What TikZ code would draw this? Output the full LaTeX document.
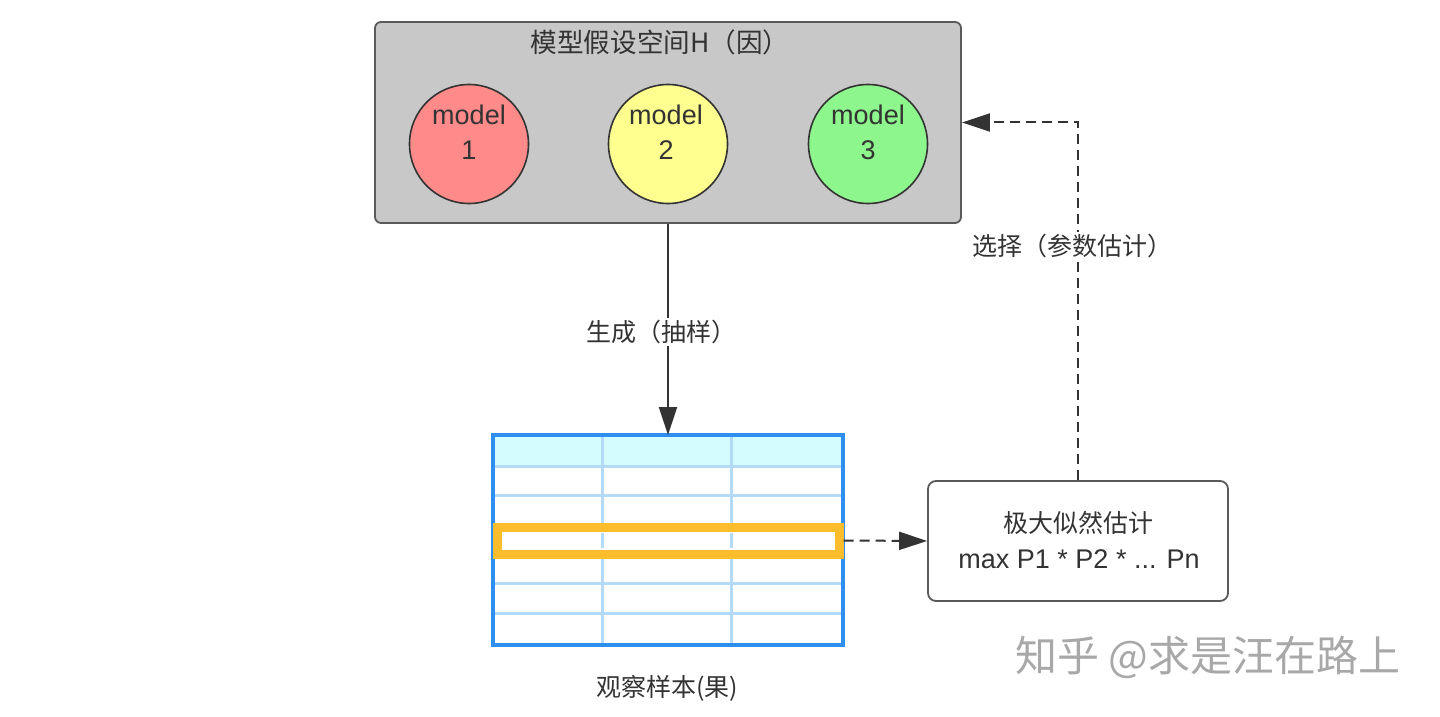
\documentclass[tikz,border=0pt]{standalone}
\usepackage{fontspec}
\setmainfont{Liberation Sans}
\newfontfamily\cjk{Noto Sans CJK SC}
\usetikzlibrary{arrows.meta,positioning}
\definecolor{boxgray}{HTML}{C8C8C8}
\definecolor{edgegray}{HTML}{5A5A5A}
\definecolor{txt}{HTML}{333333}
\definecolor{mred}{HTML}{FF8A8A}
\definecolor{myel}{HTML}{FFFF8F}
\definecolor{mgrn}{HTML}{8DF78D}
\definecolor{tblue}{HTML}{2E8FF0}
\definecolor{tgrid}{HTML}{B3DBF8}
\definecolor{thead}{HTML}{D4FBFD}
\definecolor{orng}{HTML}{FBBD2C}
\definecolor{wm}{HTML}{A8A8A8}
\tikzset{
  cjklabel/.style={font=\cjk\fontsize{12.5pt}{15pt}\selectfont, text=txt, inner sep=1pt},
  modelc/.style={circle, draw=txt, line width=0.8pt, minimum size=59.5pt, inner sep=0pt},
  modelt/.style={font=\fontsize{13.5pt}{17.5pt}\selectfont, text=txt, align=center},
  arr/.style={draw=txt, line width=1pt, -{Triangle[length=14pt,width=9pt]}},
  darr/.style={draw=txt, line width=1pt, dash pattern=on 5pt off 3pt, -{Triangle[length=14pt,width=9pt]}},
}
\begin{document}
\begin{tikzpicture}[x=0.5pt,y=-0.5pt]
\useasboundingbox (0,0) rectangle (1440,717);
% hypothesis box
\node[draw=edgegray, fill=boxgray, line width=0.9pt, rounded corners=3pt,
      minimum width=293pt, minimum height=100.5pt, inner sep=0pt] (hbox) at (668,122.5) {};
\node[cjklabel, font=\cjk\fontsize{13.3pt}{15pt}\selectfont] (htitle) at (660,42) {模型假设空间H（因）};
\node[modelc, fill=mred] (c1) at (469,144) {};
\node[modelc, fill=myel] (c2) at (668,144) {};
\node[modelc, fill=mgrn] (c3) at (868,144) {};
\node[modelt] (t1) at (469,132) {model\\1};
\node[modelt] (t2) at (666,132) {model\\2};
\node[modelt] (t3) at (868,132) {model\\3};
% table
\node[minimum width=175pt, minimum height=105pt, inner sep=0pt, outer sep=0pt] (tbl) at (668,540) {};
\fill[thead] (495,437) rectangle (841,466);
\draw[tgrid, line width=1.5pt]
  (495,466) -- (841,466) (495,495) -- (841,495) (495,583) -- (841,583) (495,613) -- (841,613)
  (602,437) -- (602,643) (731,437) -- (731,643);
\draw[tblue, line width=2pt] (tbl.south west) rectangle (tbl.north east);
\node[draw=orng, fill=white, line width=4.5pt, minimum width=171pt, minimum height=13.5pt,
      inner sep=0pt] (hl) at (668,540.5) {};
\draw[tgrid, line width=1.5pt] (602,533) -- (602,548) (731,533) -- (731,548);
\node[cjklabel] (obs) at (667,688) {观察样本(果)};
% MLE box
\node[draw=edgegray, fill=white, line width=0.9pt, rounded corners=4pt,
      minimum width=150pt, minimum height=60pt, inner sep=0pt] (mle) at (1078,541) {};
\node[cjklabel] (mlet) at (1078,523) {极大似然估计};
\node[font=\fontsize{13.5pt}{16pt}\selectfont, text=txt] (mlef) at (1079,559) {max P1 * P2 * ... Pn};
% connectors
\draw[arr] (hbox.south) -- (tbl.north);
\node[cjklabel, fill=white] (gen) at (661,332) {生成（抽样）};
\draw[darr] (hl.east) -- (mle.west);
\draw[darr] (mle.north) |- (hbox.east);
\node[cjklabel, fill=white] (sel) at (1072,246) {选择（参数估计）};
% watermark
\node[font=\cjk\fontsize{21pt}{24pt}\selectfont, text=wm] (wmk) at (1208,657) {知乎 @求是汪在路上};
\end{tikzpicture}
\end{document}
